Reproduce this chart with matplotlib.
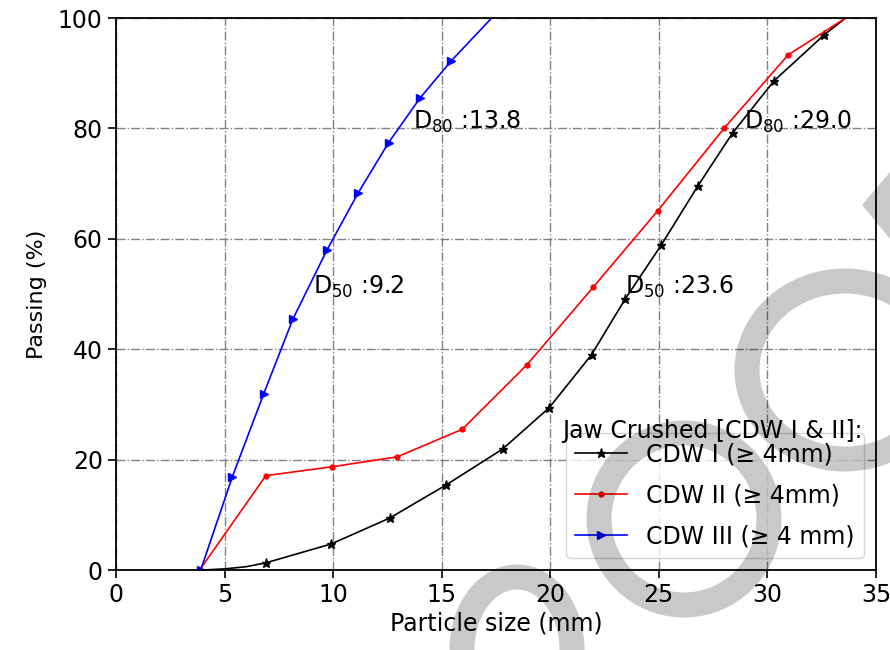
import matplotlib
matplotlib.use("Agg")
import matplotlib.pyplot as plt
from matplotlib.patches import Ellipse, Polygon
from matplotlib.transforms import Affine2D

# ---- data ----
cdw1_x = [4.0, 5.0, 6.0, 6.9, 9.9, 12.6, 15.2, 17.8, 19.95, 21.9, 23.45, 25.1, 26.8, 28.4, 30.3, 32.6, 33.6]
cdw1_y = [0.0, 0.2, 0.6, 1.3, 4.7, 9.4, 15.4, 21.9, 29.4, 39.0, 49.1, 58.8, 69.6, 79.2, 88.6, 96.9, 100.0]
cdw1_marks = list(range(3, 16))

cdw2_x = [3.85, 6.9, 9.95, 12.95, 15.95, 18.93, 21.97, 24.95, 28.0, 30.95, 33.6]
cdw2_y = [0.0, 17.1, 18.7, 20.5, 25.5, 37.2, 51.2, 65.1, 80.0, 93.3, 100.0]
cdw2_marks = list(range(1, 10))

cdw3_x = [3.9, 5.35, 6.8, 8.15, 9.72, 11.15, 12.55, 14.0, 15.43, 17.3]
cdw3_y = [0.0, 16.8, 31.9, 45.5, 58.0, 68.3, 77.4, 85.5, 92.2, 100.0]
cdw3_marks = list(range(0, 9))

labels = ["CDW I (\u2265 4mm)", "CDW II (\u2265 4mm)", "CDW III (\u2265 4 mm)"]
legend_title = "Jaw Crushed [CDW I & II]:"

d50_values = [9.2, 23.6]
d80_values = [13.8, 29.0]

x_ticks = [0, 5, 10, 15, 20, 25, 30, 35]
y_ticks = [0, 20, 40, 60, 80, 100]

FS = 17

fig = plt.figure(figsize=(8.9, 6.5), dpi=100)
ax = fig.add_axes([116/890, 80/650, 760/890, 552/650])

ax.plot(cdw1_x, cdw1_y, color='k', lw=1.2, marker='*', ms=6.5, markevery=cdw1_marks, label=labels[0])
ax.plot(cdw2_x, cdw2_y, color='r', lw=1.2, marker='o', ms=3.5, markevery=cdw2_marks, label=labels[1])
ax.plot(cdw3_x, cdw3_y, color='b', lw=1.2, marker='>', ms=6, markevery=cdw3_marks, label=labels[2])

ax.set_xlim(0, 35)
ax.set_ylim(0, 100)
ax.set_xticks(x_ticks)
ax.set_yticks(y_ticks)
ax.tick_params(labelsize=FS, length=6, width=1.2)
ax.set_xlabel("Particle size (mm)", fontsize=FS, labelpad=3)
ax.set_ylabel("Passing (%)", fontsize=16, labelpad=8)
ax.grid(True, linestyle='-.', color='gray', lw=1.0)
ax.set_axisbelow(True)
for s in ax.spines.values():
    s.set_linewidth(1.3)

for d in d50_values:
    ax.text(d - 0.15, 50, "D$_{50}$ :%.1f" % d, fontsize=FS)
for d in d80_values:
    ax.text(d - 0.1, 80, "D$_{80}$ :%.1f" % d, fontsize=FS)

leg = ax.legend(loc='lower right', fontsize=FS, handlelength=2.2, labelspacing=0.72)
ax.text(0.983, 0.24, legend_title, transform=ax.transAxes, ha='right', va='baseline',
        fontsize=FS, zorder=6)

# ---- watermark (light gray strokes over the figure) ----
px = Affine2D().scale(1, -1).translate(0, 650)
wm = dict(facecolor='none', edgecolor='k', alpha=0.21, transform=px, zorder=10)
lw_px = 25 * 72 / 100
fig.add_artist(Ellipse((684, 519), 170, 172, lw=lw_px, **wm))
fig.add_artist(Ellipse((845, 370), 196, 178, lw=lw_px, **wm))
fig.add_artist(Ellipse((517, 650), 110, 146, lw=lw_px, **wm))
fig.add_artist(Polygon([(862, 205), (891, 171), (891, 240)], closed=True,
                       facecolor='k', edgecolor='none', alpha=0.21, transform=px, zorder=10))

fig.savefig("out.png", dpi=100)
